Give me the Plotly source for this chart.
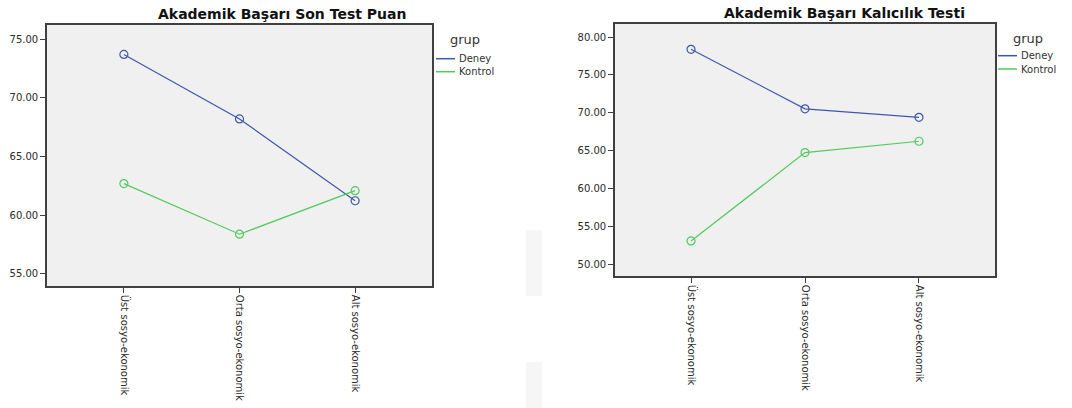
import plotly.graph_objects as go

categories = ["Üst sosyo-ekonomik", "Orta sosyo-ekonomik", "Alt sosyo-ekonomik"]
groups = ["Deney", "Kontrol"]

son_test_deney = [73.69, 68.20, 61.23]
son_test_kontrol = [62.69, 58.38, 62.09]

kalicilik_deney = [78.38, 70.55, 69.43]
kalicilik_kontrol = [53.16, 64.79, 66.28]

y1_ticks = [55, 60, 65, 70, 75]
y2_ticks = [50, 55, 60, 65, 70, 75, 80]

titles = ["Akademik Başarı Son Test Puan", "Akademik Başarı Kalıcılık Testi"]
legend_title = "grup"

BLUE = "#3e58ac"
GREEN = "#52c95e"
COLORS = [BLUE, GREEN]
W, H = 1072, 408

fig = go.Figure()

def add(x_ref, y_ref, vals, name, color):
    fig.add_trace(go.Scatter(
        x=list(range(len(categories))), y=vals, name=name,
        mode="lines+markers",
        line=dict(color=color, width=1.2),
        marker=dict(symbol="circle-open", size=8, color=color, line=dict(width=1.2)),
        xaxis=x_ref, yaxis=y_ref, showlegend=False,
    ))

add("x", "y", son_test_deney, groups[0], BLUE)
add("x", "y", son_test_kontrol, groups[1], GREEN)
add("x2", "y2", kalicilik_deney, groups[0], BLUE)
add("x2", "y2", kalicilik_kontrol, groups[1], GREEN)

tick_font = dict(family="DejaVu Sans", size=10, color="#2a2a2a")
axis_common = dict(showline=True, mirror=True, linecolor="#404040", linewidth=1.6,
                   ticks="outside", ticklen=5, tickcolor="#404040", tickwidth=1,
                   showgrid=False, zeroline=False, tickfont=tick_font)

annotations = [
    dict(text=f"<b>{titles[0]}</b>", x=282 / W, y=1 - 14 / H, xref="paper", yref="paper",
         showarrow=False, xanchor="center", yanchor="middle",
         font=dict(family="DejaVu Sans", size=14, color="#111")),
    dict(text=f"<b>{titles[1]}</b>", x=844.5 / W, y=1 - 13 / H, xref="paper", yref="paper",
         showarrow=False, xanchor="center", yanchor="middle",
         font=dict(family="DejaVu Sans", size=14, color="#111")),
]

# faint watermark strips between the two charts
shapes = [
    dict(type="rect", xref="paper", yref="paper", layer="below",
         x0=526 / W, x1=542 / W, y0=1 - 296 / H, y1=1 - 230 / H,
         fillcolor="#f6f6f6", line=dict(width=0)),
    dict(type="rect", xref="paper", yref="paper", layer="below",
         x0=526 / W, x1=542 / W, y0=0, y1=1 - 362 / H,
         fillcolor="#f6f6f6", line=dict(width=0)),
]

# manual legends (lines only, like the source)
legend_specs = [
    dict(title_x=465, title_y=40, line_x0=436, line_x1=455, text_x=457, ys=[58.7, 71.7]),
    dict(title_x=1027.5, title_y=38, line_x0=998, line_x1=1017, text_x=1019, ys=[55.7, 69]),
]
for spec in legend_specs:
    annotations.append(dict(text=legend_title, x=spec["title_x"] / W, y=1 - spec["title_y"] / H,
                            xref="paper", yref="paper", showarrow=False,
                            xanchor="center", yanchor="middle",
                            font=dict(family="DejaVu Sans", size=13, color="#333")))
    for name, color, yy in zip(groups, COLORS, spec["ys"]):
        shapes.append(dict(type="line", xref="paper", yref="paper",
                           x0=spec["line_x0"] / W, x1=spec["line_x1"] / W,
                           y0=1 - yy / H, y1=1 - yy / H,
                           line=dict(color=color, width=1.5)))
        annotations.append(dict(text=name, x=spec["text_x"] / W, y=1 - yy / H,
                                xref="paper", yref="paper", showarrow=False,
                                xanchor="left", yanchor="middle",
                                font=dict(family="DejaVu Sans", size=10, color="#333")))

fig.update_layout(
    width=W, height=H,
    margin=dict(l=0, r=0, t=0, b=0),
    paper_bgcolor="white", plot_bgcolor="#f0f0f0",
    xaxis=dict(domain=[47 / W, 432 / W], range=[-0.665, 2.665],
               tickvals=list(range(len(categories))), ticktext=categories,
               tickangle=90, anchor="y", **axis_common),
    yaxis=dict(domain=[1 - 286 / H, 1 - 25 / H], range=[53.97, 76.2],
               tickvals=y1_ticks, tickformat=".2f", anchor="x", **axis_common),
    xaxis2=dict(domain=[615 / W, 995 / W], range=[-0.667, 2.667],
                tickvals=list(range(len(categories))), ticktext=categories,
                tickangle=90, anchor="y2", **axis_common),
    yaxis2=dict(domain=[1 - 276 / H, 1 - 24 / H], range=[48.55, 81.71],
                tickvals=y2_ticks, tickformat=".2f", anchor="x2", **axis_common),
    showlegend=False,
    annotations=annotations,
    shapes=shapes,
)

fig.write_html("out.html")
